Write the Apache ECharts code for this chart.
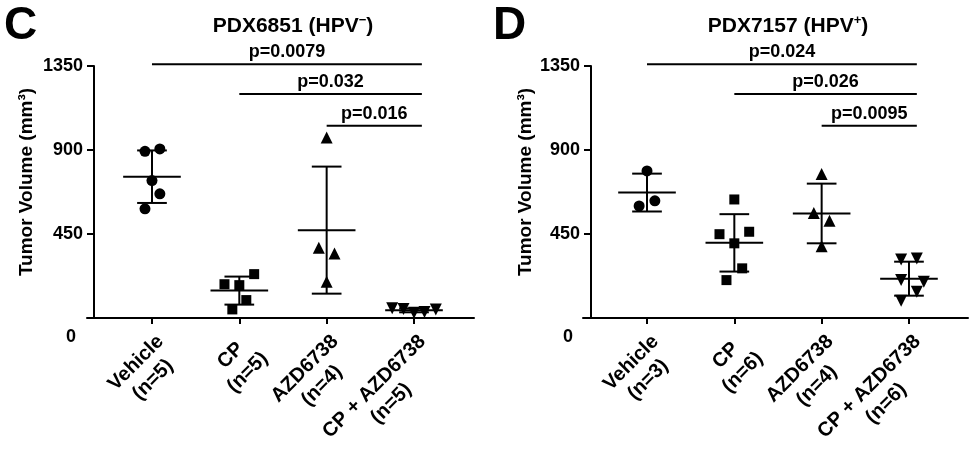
<!DOCTYPE html>
<html><head><meta charset="utf-8">
<script src="https://cdn.jsdelivr.net/npm/echarts@6/dist/echarts.min.js"></script>
<style>html,body{margin:0;padding:0;background:#fff}#c{width:975px;height:450px}</style>
</head><body><div id="c"></div>
<script>
const FONT = 'Arial, "Liberation Sans", Helvetica, sans-serif';

// ---- data ----
const categoriesC = ['Vehicle\n(n=5)', 'CP\n(n=5)', 'AZD6738\n(n=4)', 'CP + AZD6738\n(n=5)'];
const categoriesD = ['Vehicle\n(n=3)', 'CP\n(n=6)', 'AZD6738\n(n=4)', 'CP + AZD6738\n(n=6)'];
const yTicks = [0, 450, 900, 1350];

// Panel C: PDX6851 (HPV-)
const vehicleC = [893, 906, 736, 665, 585];
const cpC      = [181, 176, 235, 96, 46];
const azdC     = [967, 377, 345, 194];
const comboC   = [52, 48, 28, 32, 45];
// horizontal jitter of points within a category (category units)
const jitterVehicleC = [-0.08, 0.09, 0, 0.09, -0.08];
const jitterCpC      = [-0.17, 0, 0.17, 0.08, -0.08];
const jitterAzdC     = [0, -0.09, 0.09, 0];
const jitterComboC   = [-0.25, -0.12, 0, 0.12, 0.25];

// Panel D: PDX7157 (HPV+)
const vehicleD = [788, 600, 628];
const cpD      = [635, 449, 462, 400, 266, 203];
const azdD     = [771, 563, 521, 385];
const comboD   = [314, 319, 203, 194, 141, 93];
const jitterVehicleD = [0, -0.09, 0.09];
const jitterCpD      = [0, -0.17, 0.17, 0, 0.09, -0.09];
const jitterAzdD     = [0, -0.09, 0.09, 0];
const jitterComboD   = [-0.09, 0.09, -0.09, 0.17, 0.09, -0.09];

// significance brackets: from category pStart[k] to last category
const pLabelsC = ['p=0.0079', 'p=0.032', 'p=0.016'];
const pLabelsD = ['p=0.024', 'p=0.026', 'p=0.0095'];
const pStart = [0, 1, 2];
const pEndCat = 3;
const pLevels = [1360, 1200, 1030];

// ---- helpers ----
function mean(a){ return a.reduce((s,v)=>s+v,0)/a.length; }
function sd(a){ const m = mean(a); return Math.sqrt(a.reduce((s,v)=>s+(v-m)*(v-m),0)/(a.length-1)); }

const symbols = ['circle', 'rect', 'triangle', 'triangle'];
const rotations = [0, 0, 0, 180];
const sizes = [11, 10, 12, 12];

function panelSeries(idx, groups, jitters, pLabels){
  const series = [];
  groups.forEach((g, c) => {
    series.push({
      type: 'scatter', xAxisIndex: idx, yAxisIndex: idx,
      symbol: symbols[c], symbolRotate: rotations[c], symbolSize: sizes[c],
      itemStyle: { color: '#000', opacity: 1 }, z: 3, silent: true,
      data: g.map((v, i) => [c + jitters[c][i], v])
    });
  });
  series.push({
    type: 'custom', xAxisIndex: idx, yAxisIndex: idx, z: 4, silent: true,
    data: groups.map((g, c) => [c, mean(g), sd(g)]),
    renderItem(params, api){
      const c = api.value(0), m = api.value(1), s = api.value(2);
      const seg = (x1, y1, x2, y2) => {
        const a = api.coord([x1, y1]), b = api.coord([x2, y2]);
        return { type: 'line', shape: { x1: a[0], y1: a[1], x2: b[0], y2: b[1] }, style: { stroke: '#000', lineWidth: 2 } };
      };
      return { type: 'group', children: [
        seg(c - 0.33, m, c + 0.33, m),
        seg(c, m - s, c, m + s),
        seg(c - 0.17, m + s, c + 0.17, m + s),
        seg(c - 0.17, m - s, c + 0.17, m - s)
      ]};
    }
  });
  series.push({
    type: 'custom', xAxisIndex: idx, yAxisIndex: idx, z: 4, silent: true, clip: false,
    data: pStart.map((s, k) => [s, pEndCat, pLevels[k], k]),
    renderItem(params, api){
      const s = api.value(0), e = api.value(1) + 0.09, y = api.value(2), k = api.value(3);
      const a = api.coord([s, y]), b = api.coord([e, y]);
      return { type: 'group', children: [
        { type: 'line', shape: { x1: a[0], y1: a[1], x2: b[0], y2: b[1] }, style: { stroke: '#000', lineWidth: 2 } },
        { type: 'text', x: (a[0] + b[0]) / 2, y: a[1] - 3,
          style: { text: pLabels[k], fontSize: 18, fontWeight: 'bold', fontFamily: FONT, fill: '#000', align: 'center', verticalAlign: 'bottom' } }
      ]};
    }
  });
  return series;
}

function xAxisFor(idx, cats, min, max){
  return {
    type: 'value', gridIndex: idx, min: min, max: max,
    splitLine: { show: false },
    axisLine: { onZero: false, lineStyle: { color: '#000', width: 2 } },
    axisTick: { customValues: [0, 1, 2, 3], length: 6, lineStyle: { color: '#000', width: 2 } },
    axisLabel: {
      customValues: [0, 1, 2, 3], rotate: 45, margin: 12,
      align: 'right', verticalAlign: 'top',
      formatter: v => cats[Math.round(v)].split('\n').map(t => '{c|' + t + '}').join('\n'),
      rich: { c: { align: 'center', fontSize: 20, fontWeight: 'bold', fontFamily: FONT, color: '#000', lineHeight: 24 } }
    }
  };
}
function yAxisFor(idx, offset, gap){
  return {
    type: 'value', gridIndex: idx, min: yTicks[0], max: yTicks[yTicks.length - 1], interval: yTicks[1] - yTicks[0],
    offset: offset,
    name: 'Tumor Volume (mm³)', nameLocation: 'middle', nameGap: gap,
    nameTextStyle: { fontSize: 19, fontWeight: 'bold', fontFamily: FONT, color: '#000', padding: [0, 0, 0, 20] },
    splitLine: { show: false },
    axisLine: { show: true, onZero: false, lineStyle: { color: '#000', width: 2 } },
    axisTick: { show: true, length: 7, lineStyle: { color: '#000', width: 2 } },
    axisLabel: {
      margin: 11, fontSize: 18, fontWeight: 'bold', fontFamily: FONT, color: '#000',
      formatter: v => v === 0 ? '{z|0}' : String(v),
      rich: { z: { fontSize: 18, fontWeight: 'bold', fontFamily: FONT, color: '#000', padding: [38, 7, 0, 0] } }
    }
  };
}

const titleRich = {
  a: { fontSize: 21, fontWeight: 'bold', fontFamily: FONT, fill: '#000', lineHeight: 24 },
  s: { fontSize: 13, fontWeight: 'bold', fontFamily: FONT, fill: '#000', lineHeight: 13, verticalAlign: 'top' }
};

const option = {
  backgroundColor: '#fff',
  animation: false,
  grid: [
    { left: 87, top: 66, width: 387, height: 252, containLabel: false, outerBoundsMode: 'none' },
    { left: 583, top: 66, width: 385, height: 252, containLabel: false, outerBoundsMode: 'none' }
  ],
  xAxis: [ xAxisFor(0, categoriesC, -0.744, 3.687), xAxisFor(1, categoriesD, -0.733, 3.676) ],
  yAxis: [ yAxisFor(0, -7, 58), yAxisFor(1, -8, 56) ],
  series: [
    ...panelSeries(0, [vehicleC, cpC, azdC, comboC], [jitterVehicleC, jitterCpC, jitterAzdC, jitterComboC], pLabelsC),
    ...panelSeries(1, [vehicleD, cpD, azdD, comboD], [jitterVehicleD, jitterCpD, jitterAzdD, jitterComboD], pLabelsD)
  ],
  graphic: [
    { type: 'text', x: 4, y: 26, style: { text: 'C', fontSize: 46, fontWeight: 'bold', fontFamily: FONT, fill: '#000', verticalAlign: 'middle' } },
    { type: 'text', x: 493, y: 26, style: { text: 'D', fontSize: 46, fontWeight: 'bold', fontFamily: FONT, fill: '#000', verticalAlign: 'middle' } },
    { type: 'text', x: 293, y: 26, style: { text: '{a|PDX6851 (HPV}{s|−}{a|)}', rich: titleRich, align: 'center', verticalAlign: 'middle' } },
    { type: 'text', x: 788, y: 26, style: { text: '{a|PDX7157 (HPV}{s|+}{a|)}', rich: titleRich, align: 'center', verticalAlign: 'middle' } }
  ]
};
echarts.init(document.getElementById('c'), null, { renderer: 'canvas' }).setOption(option);
</script></body></html>
